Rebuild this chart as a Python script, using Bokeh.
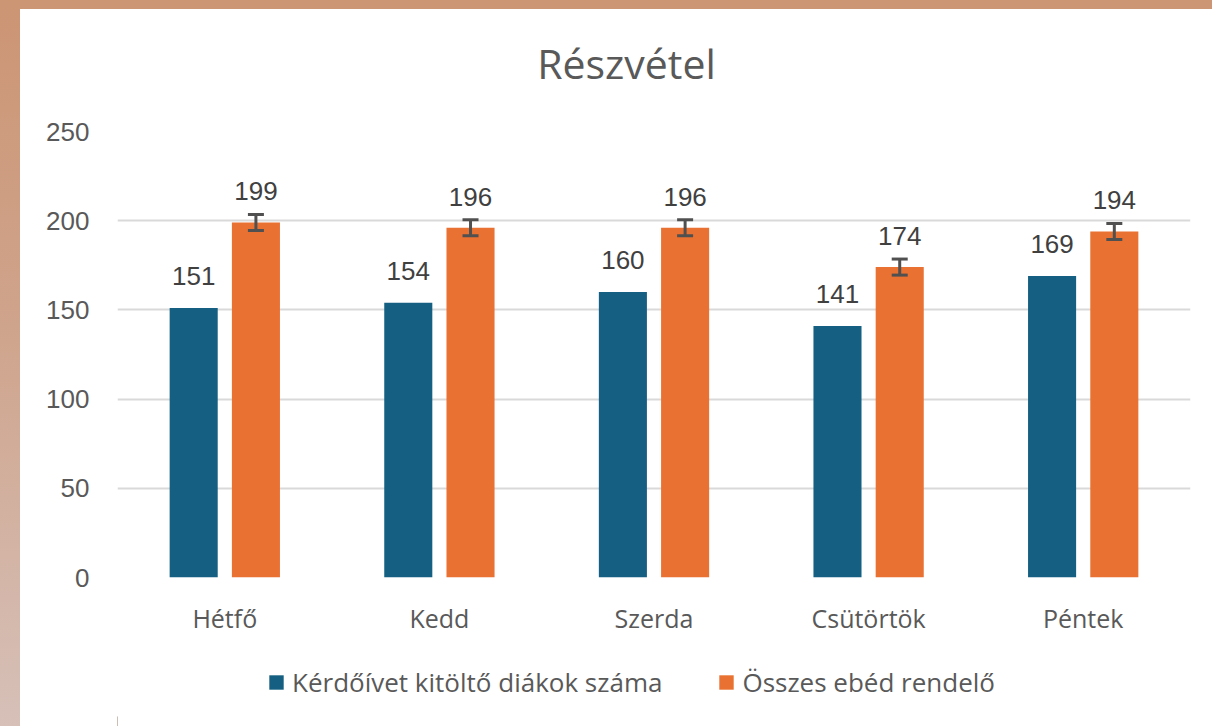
from bokeh.plotting import figure
from bokeh.layouts import column
from bokeh.models import ColumnDataSource, LabelSet, Label, Whisker, TeeHead, Legend, LegendItem, FactorRange, Range1d, FixedTicker
from bokeh.core.properties import value
from bokeh.transform import dodge
from bokeh.embed import file_html
from bokeh.resources import INLINE

title_text = "Részvétel"
days = ["Hétfő", "Kedd", "Szerda", "Csütörtök", "Péntek"]
kitolto = [151, 154, 160, 141, 169]
osszes = [199, 196, 196, 174, 194]
hiba = [4.5, 4.5, 4.5, 4.5, 4.5]
series_names = ["Kérdőívet kitöltő diákok száma", "Összes ebéd rendelő"]
y_ticks = [0, 50, 100, 150, 200, 250]

BLUE = "#156082"
ORANGE = "#E97132"
TXT = "#595959"
W = 1192


def strip(height):
    f = figure(width=W, height=height, output_backend="svg", toolbar_location=None,
               x_range=Range1d(0, 1073), y_range=Range1d(0, height),
               x_axis_location=None, y_axis_location=None,
               min_border=0, min_border_left=0, min_border_right=0, min_border_top=0, min_border_bottom=0)
    f.outline_line_color = None
    f.background_fill_color = None
    f.border_fill_color = "white"
    f.grid.visible = False
    return f


# title strip
t = strip(100)
t.add_layout(Label(x=509, y=47, text=title_text, text_align="center", text_baseline="middle",
                   text_font="Open Sans", text_font_size="41px", text_color=TXT))

src = ColumnDataSource(dict(
    day=days, a=kitolto, b=osszes,
    a_lbl=[str(v) for v in kitolto], b_lbl=[str(v) for v in osszes],
    upper=[v + e for v, e in zip(osszes, hiba)],
    lower=[v - e for v, e in zip(osszes, hiba)],
))

p = figure(x_range=FactorRange(*days), y_range=Range1d(0, 250),
           width=W, height=541, output_backend="svg", toolbar_location=None,
           min_border_left=97, min_border_right=22, min_border_top=22, min_border_bottom=73)
p.outline_line_color = None
p.background_fill_color = "white"
p.border_fill_color = "white"

off = 0.145
w = 0.224
ra = p.vbar(x=dodge("day", -off, range=p.x_range), top="a", width=w, source=src, fill_color=BLUE, line_color=None)
rb = p.vbar(x=dodge("day", off, range=p.x_range), top="b", width=w, source=src, fill_color=ORANGE, line_color=None)

wh = Whisker(base=dodge("day", off, range=p.x_range), upper="upper", lower="lower", source=src,
             line_color="#505050", line_width=3, level="overlay",
             upper_head=TeeHead(size=16, line_color="#505050", line_width=3),
             lower_head=TeeHead(size=16, line_color="#505050", line_width=3))
p.add_layout(wh)

for col, lbl, dx, yo in (("a", "a_lbl", -off, 32), ("b", "b_lbl", off, 31)):
    ls = LabelSet(x=dodge("day", dx, range=p.x_range), y=col, text=lbl, source=src,
                  y_offset=yo, text_align="center", text_baseline="middle",
                  text_font=value("Liberation Sans"), text_font_size=value("26px"), text_color="#404040")
    p.add_layout(ls)

p.xgrid.grid_line_color = None
p.ygrid.grid_line_color = "#d9d9d9"
p.ygrid.grid_line_width = 2
p.yaxis.ticker = FixedTicker(ticks=y_ticks)

for ax in (p.xaxis[0], p.yaxis[0]):
    ax.axis_line_color = None
    ax.major_tick_line_color = None
    ax.minor_tick_line_color = None
    ax.major_tick_out = 0
    ax.major_tick_in = 0
    ax.major_label_text_color = TXT

p.yaxis.major_label_text_font = "Liberation Sans"
p.yaxis.major_label_text_font_size = "26px"
p.yaxis.major_label_standoff = 28
p.xaxis.major_label_text_font = "Open Sans"
p.xaxis.major_label_text_font_size = "25px"
p.xaxis.major_label_standoff = 23

# legend strip below the chart
q = strip(76)
la = q.vbar(x=[-500], top=[10], width=10, fill_color=BLUE, line_color=None)
lb = q.vbar(x=[-500], top=[10], width=10, fill_color=ORANGE, line_color=None)
legend = Legend(items=[LegendItem(label=series_names[0], renderers=[la]),
                       LegendItem(label=series_names[1], renderers=[lb])],
                orientation="horizontal", location=(150, 26),
                label_text_font="Open Sans", label_text_font_size="26px", label_text_color=TXT,
                glyph_width=18, glyph_height=18, label_standoff=7, spacing=55,
                border_line_color=None, background_fill_alpha=0, margin=0, padding=5)
q.add_layout(legend)

layout = column(t, p, q, spacing=0, styles={"background-color": "white"})

html = file_html(layout, INLINE)
css = ("<style>html,body{overflow:hidden;} body{margin:9px 0 0 20px;"
       "background:linear-gradient(180deg,#cc9574 0%,#cfa48c 45%,#d6c0b8 100%);}</style>")
html = html.replace("</head>", css + "</head>", 1)
open("out.html", "w").write(html)
